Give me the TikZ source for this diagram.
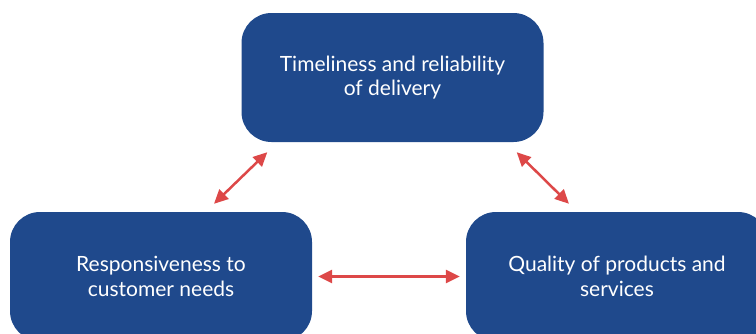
\documentclass[tikz,border=0pt]{standalone}
\usepackage{fontspec}
\setmainfont{Lato}
\usetikzlibrary{arrows.meta,calc}

\definecolor{boxblue}{RGB}{31,73,140}
\definecolor{arrowred}{RGB}{221,72,72}

\tikzset{
	box/.style={fill=boxblue, rounded corners=30pt, minimum width=302pt,
		minimum height=129pt, text=white, align=center,
		font=\fontsize{21}{24.5}\selectfont},
	link/.style={arrowred, line width=2.5pt,
		{Triangle[length=14pt,width=13pt]}-{Triangle[length=14pt,width=13pt]}}
}

\begin{document}
\begin{tikzpicture}[x=1pt,y=-1pt]

	% Frame
	\useasboundingbox (0,0) rectangle (756,333);
	\clip (0,0) rectangle (756,333);

	% Boxes
	\node[box] (delivery) at (392.5,77.5) {Timeliness and reliability\\of delivery};
	\node[box] (response) at (161,276.5) {Responsiveness to\\customer needs};
	\node[box] (quality) at (617,276.5) {Quality of products and\\services};

	% Arrow ends
	\coordinate (dl) at ($(delivery.south west)+(26,10)$);
	\coordinate (dr) at ($(delivery.south east)+(-27,10)$);
	\coordinate (rt) at ($(response.north)+(53,-8)$);
	\coordinate (qt) at ($(quality.north)+(-48,-8)$);

	% Arrows
	\draw[link] (dl) -- (rt);
	\draw[link] (dr) -- (qt);
	\draw[link] ($(response.east)+(6,0)$) -- ($(quality.west)+(-6,0)$);

\end{tikzpicture}
\end{document}
